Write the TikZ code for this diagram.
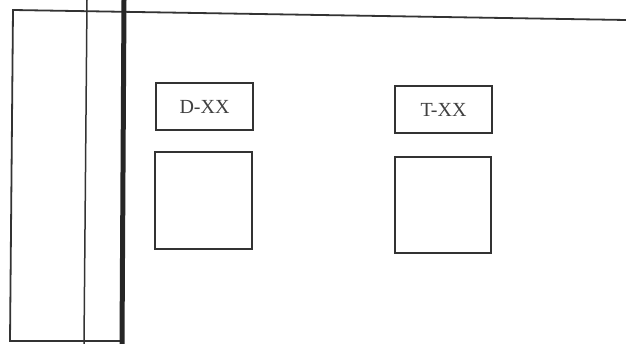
\documentclass[tikz,border=0pt]{standalone}
\usepackage{fontspec}
\setmainfont{Liberation Serif}
\tikzset{
  frameline/.style={draw=black!80, line width=1.8pt},
  heavyline/.style={draw=black!85, line width=5pt},
  labelbox/.style={draw=black!80, line width=1.4pt, minimum width=97pt, minimum height=47pt, inner sep=0pt, font=\fontsize{20}{22}\selectfont, text=black!75},
  squarebox/.style={draw=black!80, line width=1.4pt, minimum width=97pt, minimum height=97pt, inner sep=0pt}
}
\begin{document}
\begin{tikzpicture}[x=1pt,y=-1pt]
\useasboundingbox (0,0) rectangle (626,344);
\fill[white] (0,0) rectangle (626,344);
% frame
\coordinate (tl) at (13,10);
\coordinate (tr) at (626,20);
\coordinate (bl) at (10,341);
\coordinate (br) at (122,341);
\coordinate (v2t) at (87,0);
\coordinate (v2b) at (84,344);
\coordinate (v3t) at (124,0);
\coordinate (v3b) at (122,344);
\draw[frameline] (tr) -- (tl) -- (bl) -- (br);
\draw[frameline, line width=1.5pt] (v2t) -- (v2b);
\draw[heavyline] (v3t) -- (v3b);
% boxes
\node[labelbox] (dlab) at (204.5,106.5) {D-XX};
\node[squarebox] (dsq) at (203.5,200.5) {};
\node[labelbox] (tlab) at (443.5,109.5) {T-XX};
\node[squarebox, minimum width=96pt, minimum height=96pt] (tsq) at (443,205) {};
\end{tikzpicture}
\end{document}
